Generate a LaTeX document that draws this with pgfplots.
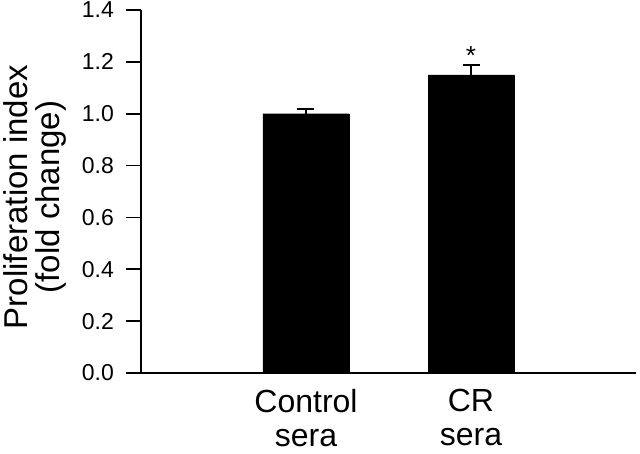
\documentclass[border=0pt]{standalone}
\usepackage{pgfplots}
\pgfplotsset{compat=1.18}
\usepackage{fontspec}
\setmainfont{Liberation Sans}
\usetikzlibrary{calc}
\begin{document}
\begin{tikzpicture}
\begin{axis}[
  scale only axis,
  width=495pt, height=363pt,
  xmin=0, xmax=3, ymin=0, ymax=1.4,
  axis x line=bottom, axis y line=left,
  axis line style={line width=1.6pt,-},
  xtick={1,2},
  xticklabels={Control\\sera, CR\\sera},
  x tick label style={align=center, font=\fontsize{32}{34}\selectfont, inner sep=0pt, yshift=-1pt},
  xtick style={draw=none},
  ytick={0,0.2,0.4,0.6,0.8,1.0,1.2,1.4},
  y tick label style={font=\fontsize{23}{26}\selectfont, /pgf/number format/fixed, /pgf/number format/fixed zerofill, /pgf/number format/precision=1, /pgf/number format/assume math mode=true, inner sep=0pt, xshift=-12pt},
  ytick style={line width=1.6pt, black},
  tick align=outside,
  major tick length=15pt,
  ylabel={Proliferation index\\(fold change)},
  ylabel style={align=center, font=\fontsize{33}{32}\selectfont, at={(axis description cs:-0.1495,0.485)}, anchor=south, inner sep=0pt},
  clip=false,
]
\addplot[ybar, bar width=86pt, fill=black, draw=black,
  error bars/.cd, y dir=plus, y explicit,
  error bar style={line width=1.6pt, black},
  error mark options={rotate=90, mark size=8.5pt, line width=1.6pt, black}]
  coordinates {(1,1.00) +- (0,0.018) (2,1.15) +- (0,0.038)};
\node[anchor=base, font=\fontsize{26}{28}\selectfont, inner sep=0pt] at (axis cs:2,1.19) {*};
\end{axis}
\pgfresetboundingbox
\path[use as bounding box] ($(current axis.south west)+(-141pt,-80pt)$) rectangle ++(640pt,453pt);
\end{tikzpicture}
\end{document}
